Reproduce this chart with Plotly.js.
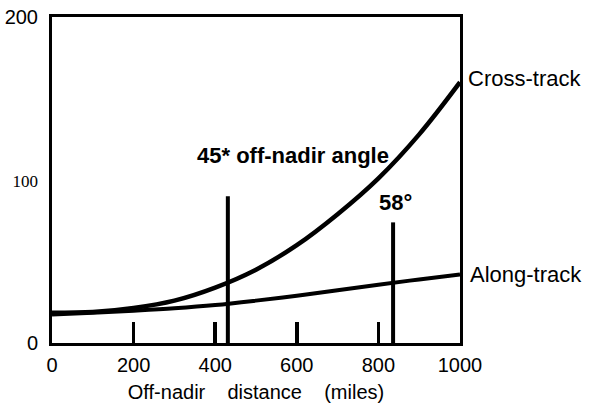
<!DOCTYPE html>
<html>
<head>
<meta charset="utf-8">
<script src="https://cdn.plot.ly/plotly-3.0.1.min.js"></script>
<style>html,body{margin:0;padding:0;background:#fff;}#chart{width:589px;height:407px;}</style>
</head>
<body>
<div id="chart"></div>
<script>
// Data
const crossX = [0, 100, 200, 300, 400, 500, 600, 700, 800, 900, 1000];
const crossY = [18.5, 19, 21.5, 26, 34, 45, 60, 79, 101, 128, 160];
const alongX = [0, 100, 200, 300, 400, 500, 600, 700, 800, 900, 1000];
const alongY = [17.5, 18.5, 19.8, 21.3, 23.3, 26, 29, 32.3, 35.7, 39, 42];
const markerX = [431, 836];
const markerTop = [90, 74];
const xTicks = [0, 200, 400, 600, 800, 1000];
const yTicks = [0, 100, 200];
const yTickText = ['0', '<span style="font-family:Liberation Serif;font-size:17px">100</span>', '200'];

const vx = [], vy = [];
markerX.forEach((x, i) => { vx.push(x, x, null); vy.push(0, markerTop[i], null); });

const traces = [
  {x: crossX, y: crossY, mode: 'lines', line: {color: '#000', width: 4.5, shape: 'spline', smoothing: 1}, hoverinfo: 'skip'},
  {x: alongX, y: alongY, mode: 'lines', line: {color: '#000', width: 4, shape: 'spline', smoothing: 1}, hoverinfo: 'skip'},
  {x: vx, y: vy, mode: 'lines', line: {color: '#000', width: 4}, hoverinfo: 'skip'}
];

const layout = {
  width: 589, height: 407,
  margin: {l: 52, r: 129, t: 17, b: 64},
  paper_bgcolor: '#fff', plot_bgcolor: '#fff',
  showlegend: false,
  font: {family: 'Liberation Sans, Arial, sans-serif', color: '#000'},
  xaxis: {
    range: [0, 1000], fixedrange: true,
    showgrid: false, zeroline: false,
    showline: true, mirror: true, linecolor: '#000', linewidth: 3,
    tickmode: 'array', tickvals: xTicks, ticktext: xTicks.map(String),
    ticks: 'inside', ticklen: 21, tickwidth: 3.5, tickcolor: '#000',
    tickfont: {size: 20, family: 'Liberation Sans, Arial, sans-serif'},
    ticklabelstandoff: 2,
    title: {text: 'Off-nadir\u00a0\u00a0\u00a0\u00a0distance\u00a0\u00a0\u00a0\u00a0(miles)', font: {size: 20}, standoff: 10}
  },
  yaxis: {
    range: [0, 200], fixedrange: true,
    showgrid: false, zeroline: false,
    showline: true, mirror: true, linecolor: '#000', linewidth: 3,
    tickmode: 'array', tickvals: yTicks, ticktext: yTickText,
    ticks: '', tickfont: {size: 20, family: 'Liberation Sans, Arial, sans-serif'},
    ticklabelstandoff: 7
  },
  annotations: [
    {x: 591, y: 115, xref: 'x', yref: 'y', text: '<b>45* off-nadir angle</b>', showarrow: false, font: {size: 22}},
    {x: 843, y: 86, xref: 'x', yref: 'y', text: '<b>58\u00b0</b>', showarrow: false, font: {size: 22}},
    {x: 1000, y: 162.5, xref: 'x', yref: 'y', text: 'Cross-track', showarrow: false, xanchor: 'left', xshift: 6, font: {size: 22}},
    {x: 1000, y: 42.3, xref: 'x', yref: 'y', text: 'Along-track', showarrow: false, xanchor: 'left', xshift: 8, font: {size: 22}}
  ]
};

Plotly.newPlot('chart', traces, layout, {displayModeBar: false, staticPlot: true});
</script>
</body>
</html>
